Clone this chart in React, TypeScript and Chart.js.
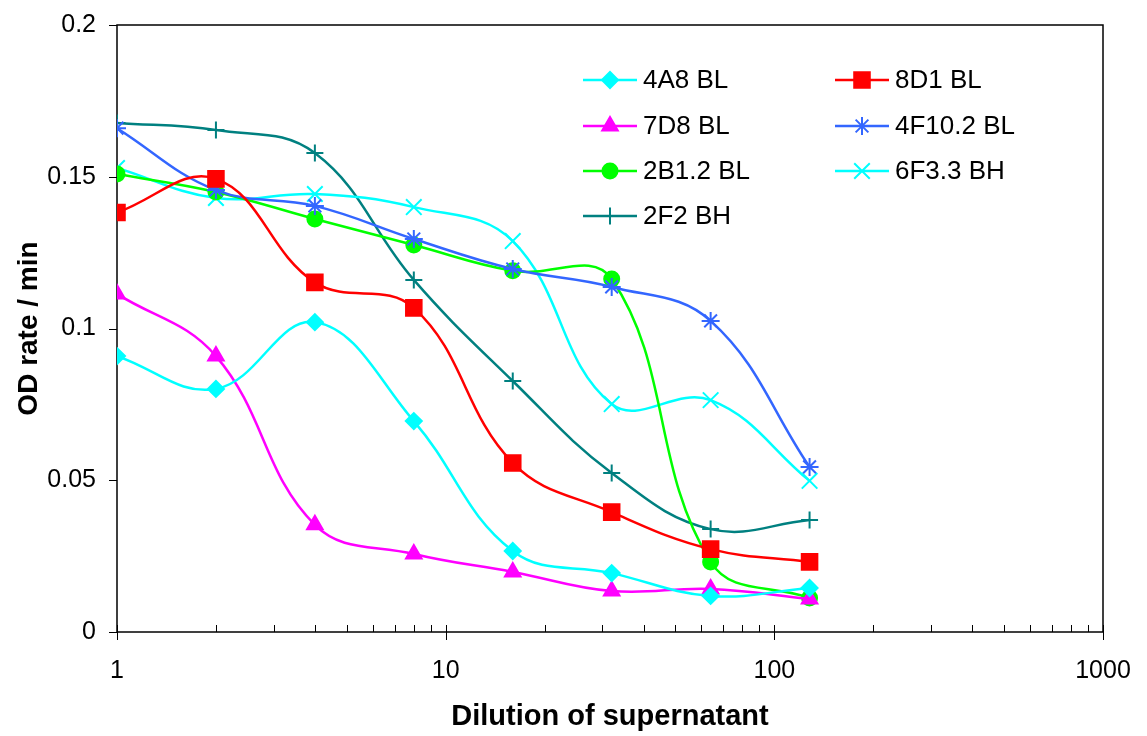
import React, { useEffect, useRef } from 'react';
import { Chart, registerables } from 'chart.js';
import { drawPoint } from 'chart.js/helpers';

Chart.register(...registerables);

const dilutions = [1, 2, 4, 8, 16, 32, 64, 128];
const s4A8BL = [0.0909, 0.0801, 0.1021, 0.0695, 0.0267, 0.0194, 0.0119, 0.0145];
const s8D1BL = [0.1382, 0.1493, 0.1152, 0.1068, 0.0557, 0.0395, 0.0273, 0.0231];
const s7D8BL = [0.1114, 0.0909, 0.0353, 0.0257, 0.0198, 0.0135, 0.0142, 0.0109];
const s4F102BL = [0.166, 0.1456, 0.1404, 0.1295, 0.1196, 0.1137, 0.1025, 0.0544];
const s2B12BL = [0.1509, 0.145, 0.1361, 0.1275, 0.119, 0.1163, 0.0231, 0.0112];
const s6F33BH = [0.1529, 0.143, 0.1443, 0.14, 0.1288, 0.0751, 0.0764, 0.0498];
const s2F2BH = [0.1677, 0.1654, 0.1578, 0.116, 0.0827, 0.0524, 0.0339, 0.0369];

const seriesNames = ['4A8 BL', '8D1 BL', '7D8 BL', '4F10.2 BL', '2B1.2 BL', '6F3.3 BH', '2F2 BH'];
const seriesValues = [s4A8BL, s8D1BL, s7D8BL, s4F102BL, s2B12BL, s6F33BH, s2F2BH];
const seriesColors = ['#00FFFF', '#FF0000', '#FF00FF', '#3366FF', '#00FF00', '#00FFFF', '#008080'];
const seriesMarkers = ['rectRot', 'rect', 'triangle', 'star', 'circle', 'crossRot', 'cross'];
const seriesRadius = [8, 11, 9, 9, 7.5, 11, 8.5];

const yTicks = [0, 0.05, 0.1, 0.15, 0.2];
const xMajorTicks = [1, 10, 100, 1000];

const FONT = '"Liberation Sans", Arial, sans-serif';

const framePlugin = {
  id: 'frame',
  beforeDatasetsDraw(chart: any) {
    const { ctx, chartArea: a, scales } = chart;
    const xs = scales.x;
    const ys = scales.y;
    ctx.save();
    ctx.strokeStyle = '#000';
    ctx.lineWidth = 1.5;
    ctx.strokeRect(a.left, a.top, a.right - a.left, a.bottom - a.top);
    ctx.lineWidth = 1;
    yTicks.forEach((v) => {
      const py = Math.round(ys.getPixelForValue(v)) + 0.5;
      ctx.beginPath();
      ctx.moveTo(a.left - 8, py);
      ctx.lineTo(a.left, py);
      ctx.stroke();
    });
    for (let d = 1; d < 1000; d *= 10) {
      for (let k = 1; k <= 10; k++) {
        const v = d * k;
        const px = Math.round(xs.getPixelForValue(v)) + 0.5;
        const major = k === 1 || k === 10;
        ctx.beginPath();
        ctx.moveTo(px, a.bottom - 7);
        ctx.lineTo(px, major ? a.bottom + 8 : a.bottom);
        ctx.stroke();
      }
    }
    ctx.restore();
  },
};

const legendPlugin = {
  id: 'customLegend',
  afterDraw(chart: any) {
    const { ctx } = chart;
    const cols = [583, 835];
    const rows = [80, 126, 171, 216];
    ctx.save();
    seriesNames.forEach((name, i) => {
      const col = i % 2;
      const row = Math.floor(i / 2);
      const x0 = cols[col];
      const y = rows[row];
      ctx.strokeStyle = seriesColors[i];
      ctx.fillStyle = seriesColors[i];
      ctx.lineWidth = 2.5;
      ctx.beginPath();
      ctx.moveTo(x0, y);
      ctx.lineTo(x0 + 54, y);
      ctx.stroke();
      ctx.lineWidth = 2;
      drawPoint(ctx, {
        pointStyle: seriesMarkers[i],
        radius: seriesRadius[i],
        rotation: 0,
        borderWidth: 2,
      } as any, x0 + 27, y);
      ctx.fillStyle = '#000';
      ctx.font = `26px ${FONT}`;
      ctx.textAlign = 'left';
      ctx.textBaseline = 'middle';
      ctx.fillText(name, x0 + 60, y + 1);
    });
    ctx.restore();
  },
};

export default function App() {
  const ref = useRef<HTMLCanvasElement>(null);
  useEffect(() => {
    const datasets = seriesNames.map((name, i) => ({
      label: name,
      data: dilutions.map((d, j) => ({ x: d, y: seriesValues[i][j] })),
      borderColor: seriesColors[i],
      backgroundColor: seriesColors[i],
      borderWidth: 2.5,
      pointStyle: seriesMarkers[i],
      pointRadius: seriesRadius[i],
      pointBorderWidth: 2,
      pointBorderColor: seriesColors[i],
      pointBackgroundColor: seriesColors[i],
      tension: 0.4,
      fill: false,
    }));
    const chart = new Chart(ref.current!, {
      type: 'line',
      data: { datasets },
      plugins: [framePlugin, legendPlugin],
      options: {
        animation: false,
        responsive: false,
        layout: { padding: { top: 25, right: 44, left: 0, bottom: 0 } },
        plugins: { legend: { display: false }, tooltip: { enabled: false } },
        scales: {
          x: {
            type: 'logarithmic',
            min: 1,
            max: 1000,
            afterFit: (s: any) => { s.height = 104; s.paddingLeft = 0; s.paddingRight = 0; },
            afterBuildTicks: (s: any) => { s.ticks = xMajorTicks.map((v) => ({ value: v })); },
            grid: { display: false, drawTicks: false },
            border: { display: false },
            ticks: {
              padding: 24,
              color: '#000',
              font: { family: FONT, size: 25 },
              autoSkip: false,
              maxRotation: 0,
              callback: (v: any) => String(v),
            },
            title: {
              display: true,
              text: 'Dilution of supernatant',
              color: '#000',
              font: { family: FONT, size: 29, weight: 'bold' },
              padding: { top: 0, bottom: 2 },
            },
          },
          y: {
            min: 0,
            max: 0.2,
            afterFit: (s: any) => { s.width = 117; s.paddingTop = 0; s.paddingBottom = 0; },
            afterBuildTicks: (s: any) => { s.ticks = yTicks.map((v) => ({ value: v })); },
            grid: { display: false, drawTicks: false },
            border: { display: false },
            ticks: {
              padding: 21,
              color: '#000',
              font: { family: FONT, size: 25 },
              callback: (v: any) => String(Math.round(v * 100) / 100),
            },
            title: {
              display: true,
              text: 'OD rate / min',
              color: '#000',
              font: { family: FONT, size: 28, weight: 'bold' },
              padding: { top: 12, bottom: 0 },
            },
          },
        },
      } as any,
    });
    return () => chart.destroy();
  }, []);
  return (
    <div style={{ position: 'fixed', left: 0, top: 0, width: 1147, height: 736, background: '#fff' }}>
      <canvas ref={ref} width={1147} height={736} style={{ width: 1147, height: 736 }} />
    </div>
  );
}
